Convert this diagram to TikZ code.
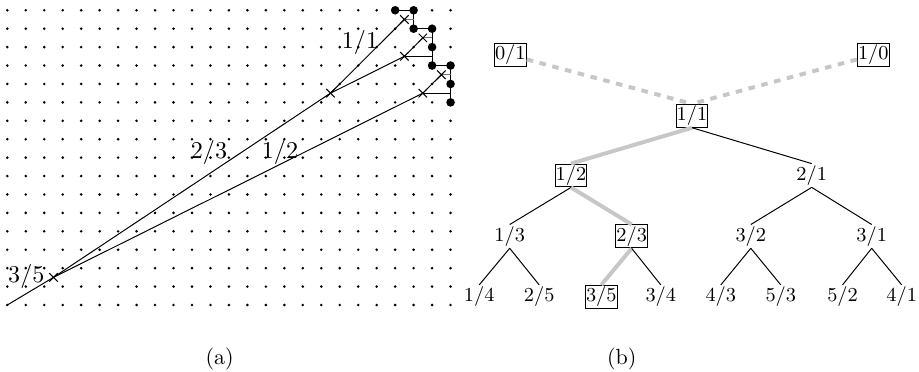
\documentclass[tikz,border=0pt]{standalone}
\usetikzlibrary{shapes.misc}
\begin{document}
\begin{tikzpicture}[x=0.4545pt,y=-0.4545pt,
  fr/.style={inner xsep=0.3pt,inner ysep=0.7pt,font=\small},
  boxed/.style={fr,draw,line width=0.45pt},
  treeedge/.style={line width=0.45pt},
  pathedge/.style={line width=1.8pt,black!22},
  boundedge/.style={pathedge,dashed},
  latlabel/.style={inner sep=0pt,font=\fontsize{11}{13}\selectfont},
  crossmark/.style={cross out,draw,line width=0.45pt,minimum size=3.4pt,inner sep=0pt},
  bigdot/.style={circle,fill,inner sep=0pt,minimum size=3.9pt},
  stair/.style={line width=0.45pt},
  proj/.style={line width=0.45pt,black!55},
  ray/.style={line width=0.45pt}]
\useasboundingbox (0,0) rectangle (919,372);

% ---------- (a) lattice ----------
\begin{scope}[shift={(7.3,305)},x=8.394pt,y=8.372pt]
  \foreach \i in {0,...,24}
    \foreach \j in {0,...,16}
      \fill (\i,\j) circle[radius=0.65pt];
  % staircase of lattice points
  \coordinate (s1) at (21,16);
  \coordinate (s2) at (22,16);
  \coordinate (s3) at (22,15);
  \coordinate (s4) at (23,15);
  \coordinate (s5) at (23,14);
  \coordinate (s6) at (23,13);
  \coordinate (s7) at (24,13);
  \coordinate (s8) at (24,12);
  \coordinate (s9) at (24,11);
  \draw[stair] (s1) -- (s2) -- (s3) -- (s4) -- (s5) -- (s6) -- (s7) -- (s8) -- (s9);
  % marked midpoints
  \coordinate (o) at (0,0);
  \coordinate (c35) at (2.5,1.5);
  \coordinate (p1) at (17.5,11.5);
  \coordinate (q1) at (21.5,15.5);
  \coordinate (q2) at (21.5,13.5);
  \coordinate (q3) at (22.5,14.5);
  \coordinate (r1) at (22.5,11.5);
  \coordinate (r2) at (23.5,12.5);
  % horizontal projections onto the staircase
  \coordinate (h1) at (22,15.5);
  \coordinate (h2) at (23,14.5);
  \coordinate (h3) at (23,13.5);
  \coordinate (h4) at (24,12.5);
  \coordinate (h5) at (24,11.5);
  \draw[proj] (q1) -- (h1);
  \draw[proj] (q3) -- (h2);
  \draw[stair] (q2) -- (h3);
  \draw[proj] (r2) -- (h4);
  \draw[stair] (r1) -- (h5);
  % rays
  \draw[ray] (o) -- (c35);
  \draw[ray] (c35) -- (p1) -- (q1);
  \draw[ray] (p1) -- (q2) -- (q3);
  \draw[ray] (c35) -- (r1) -- (r2);
  \foreach \c in {c35,p1,q1,q2,q3,r1,r2}
    \node[crossmark] at (\c) {};
  \foreach \c in {s1,s2,s3,s4,s5,s6,s7,s8,s9}
    \node[bigdot] at (\c) {};
\end{scope}
\node[latlabel] (l35) at (26.3,276) {$3/5$};
\node[latlabel] (l23) at (209,152.5) {$2/3$};
\node[latlabel] (l12) at (280,152.5) {$1/2$};
\node[latlabel] (l11) at (360,42.5) {$1/1$};
\node (capa) at (219.7,359) {(a)};

% ---------- (b) Stern--Brocot tree ----------
\node[boxed] (n01) at (510.3,55) {$0/1$};
\node[boxed] (n10) at (873.3,55) {$1/0$};
\node[boxed] (root) at (692,115.8) {$1/1$};
\node[boxed] (n12) at (571,175.5) {$1/2$};
\node[fr] (n21) at (811.7,175.5) {$2/1$};
\node[fr] (n13) at (509.7,236.4) {$1/3$};
\node[boxed] (n23) at (631.7,236.4) {$2/3$};
\node[fr] (n32) at (750.8,236.4) {$3/2$};
\node[fr] (n31) at (871.7,236.4) {$3/1$};
\node[fr] (n14) at (479.2,296.8) {$1/4$};
\node[fr] (n25) at (539.2,296.8) {$2/5$};
\node[boxed] (n35) at (601.3,296.8) {$3/5$};
\node[fr] (n34) at (660.8,296.8) {$3/4$};
\node[fr] (n43) at (720.8,296.8) {$4/3$};
\node[fr] (n53) at (780.8,296.8) {$5/3$};
\node[fr] (n52) at (842.5,296.8) {$5/2$};
\node[fr] (n41) at (901.7,296.8) {$4/1$};

\draw[boundedge] (n01) -- (root.north);
\draw[boundedge] (n10) -- (root.north);
\draw[pathedge] (root.south) -- (n12.north);
\draw[treeedge] (root.south) -- (n21.north);
\draw[treeedge] (n12.south) -- (n13.north);
\draw[pathedge] (n12.south) -- (n23.north);
\draw[treeedge] (n21.south) -- (n32.north);
\draw[treeedge] (n21.south) -- (n31.north);
\draw[treeedge] (n13.south) -- (n14.north);
\draw[treeedge] (n13.south) -- (n25.north);
\draw[pathedge] (n23.south) -- (n35.north);
\draw[treeedge] (n23.south) -- (n34.north);
\draw[treeedge] (n32.south) -- (n43.north);
\draw[treeedge] (n32.south) -- (n53.north);
\draw[treeedge] (n31.south) -- (n52.north);
\draw[treeedge] (n31.south) -- (n41.north);
\node (capb) at (621.7,359) {(b)};
\end{tikzpicture}
\end{document}
